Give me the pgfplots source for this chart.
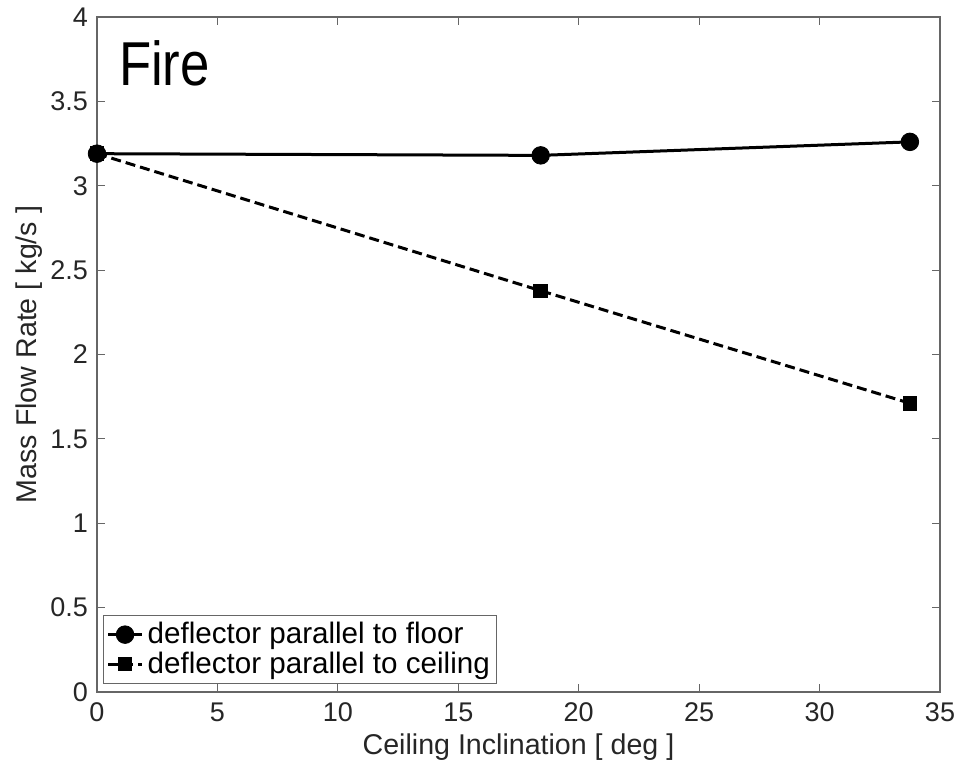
\documentclass[border=0pt]{standalone}
\usepackage{fontspec}
\setmainfont{Liberation Sans}
\usepackage{pgfplots}
\pgfplotsset{compat=1.18}
\begin{document}
\begin{tikzpicture}
\begin{axis}[
  scale only axis,
  width=421.5pt, height=337.5pt,
  xmin=0, xmax=35, ymin=0, ymax=4,
  xtick={0,5,...,35},
  ytick={0,0.5,...,4},
  yticklabels={0,0.5,1,1.5,2,2.5,3,3.5,4},
  /pgf/number format/assume math mode=true,
  tick align=inside,
  major tick length=4pt,
  axis line style={gray!80!black, line width=0.8pt},
  tick style={gray!80!black, line width=0.6pt},
  ticklabel style={font=\fontsize{13.5}{15}\selectfont, text=black!85},
  xticklabel style={yshift=-2pt},
  yticklabel style={xshift=-1pt},
  label style={font=\fontsize{14.3}{16}\selectfont, text=black!85},
  xlabel={Ceiling Inclination [ deg ]},
  ylabel={Mass Flow Rate [ kg/s ]},
  xlabel style={yshift=1pt},
  ylabel style={yshift=-3pt},
  legend style={at={(0.007,0.012)}, anchor=south west, draw=gray!80!black, line width=0.6pt,
    font=\fontsize{14.8}{16.5}\selectfont, inner sep=1.5pt, row sep=-1.5pt, cells={anchor=west}},
  legend cell align=left,
  clip=false,
]
\addplot[black, line width=1.5pt, mark=*, mark size=4.4pt, mark options={solid, line width=0.4pt}]
  coordinates {(0,3.19) (18.42,3.18) (33.75,3.26)};
\addlegendentry{deflector parallel to floor}
\addplot[black, line width=1.5pt, dash pattern=on 5pt off 2.5pt, mark=square*, mark size=3.4pt, mark options={solid, line width=0.4pt}]
  coordinates {(0,3.19) (18.42,2.378) (33.75,1.711)};
\addlegendentry{deflector parallel to ceiling}
\node[anchor=north west, font=\fontsize{31}{34}\selectfont, inner sep=0pt, xscale=0.85] at (axis cs:0.9,3.86) {Fire};
\end{axis}
\pgfresetboundingbox
\path (-48.5pt,-34.5pt) rectangle (440.5pt,346pt);
\end{tikzpicture}
\end{document}
